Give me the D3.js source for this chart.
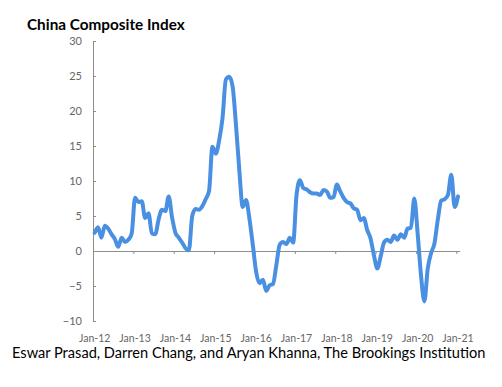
<!DOCTYPE html>
<html>
<head>
<meta charset="utf-8">
<script src="https://cdn.jsdelivr.net/npm/d3@7"></script>
<style>
  body { margin: 0; background: #fff; }
  svg { display: block; }
</style>
</head>
<body>
<script>
// monthly readings, Jan-12 .. Jan-21
var years = ["12", "13", "14", "15", "16", "17", "18", "19", "20", "21"];
var yTicks = [-10, -5, 0, 5, 10, 15, 20, 25, 30];
var composite = [
  2.6, 3.4, 1.9, 3.6, 3.2, 2.4, 1.7, 0.6, 1.9, 1.3, 1.6, 2.5,        // 2012
  7.6, 7.0, 7.1, 4.7, 5.4, 2.5, 2.4, 4.5, 5.9, 5.7, 7.8, 4.8,        // 2013
  2.6, 1.9, 1.2, 0.4, 0.1, 5.0, 6.0, 5.9, 6.4, 7.4, 8.6, 14.9,       // 2014
  13.9, 15.8, 19.0, 24.5, 24.9, 23.5, 18.0, 11.5, 6.3, 7.3, 4.6, 0.9, // 2015
  -3.0, -4.6, -4.1, -5.7, -4.9, -4.7, -2.0, 0.9, 1.3, 1.0, 1.9, 1.2, // 2016
  8.0, 10.1, 9.0, 8.8, 8.4, 8.2, 8.2, 8.0, 8.7, 8.5, 7.6, 7.7,       // 2017
  9.5, 8.5, 7.6, 7.0, 6.8, 6.1, 5.9, 4.4, 4.7, 3.0, 1.8, -0.6,       // 2018
  -2.5, -0.8, 1.2, 1.6, 1.3, 2.2, 1.6, 2.4, 1.9, 3.2, 3.3, 7.5,      // 2019
  2.5, -3.5, -7.2, -2.5, -0.3, 1.1, 4.5, 7.2, 7.4, 8.0, 10.9, 6.3,   // 2020
  7.8                                                                // 2021
];

var svg = d3.select("body").append("svg")
  .attr("width", 502)
  .attr("height", 387);

var x = d3.scaleLinear().domain([0, composite.length]).range([93, 459.7]);
var y = d3.scaleLinear().domain([-10, 30]).range([321, 41]);

var axisColor = "#8c8c8c";
var labelColor = "#666666";

// y axis, ticks pointing into the plot
var yAxis = svg.append("g")
  .attr("transform", "translate(93,0)")
  .call(d3.axisLeft(y).tickValues(yTicks).tickSize(-3).tickSizeOuter(0).tickPadding(11));
yAxis.select(".domain").attr("stroke", axisColor);
yAxis.selectAll(".tick line").attr("stroke", axisColor);
yAxis.selectAll(".tick text")
  .attr("fill", labelColor)
  .style("font-family", "Lato, 'Open Sans', sans-serif")
  .style("font-size", "11px");

// x axis drawn on the zero line
var yearIdx = years.map(function(d, i){ return i * 12; });
var xAxis = svg.append("g")
  .attr("transform", "translate(0," + y(0) + ")")
  .call(d3.axisBottom(x).tickValues(yearIdx).tickSize(3).tickSizeOuter(0).tickFormat(""));
xAxis.select(".domain").attr("stroke", axisColor);
xAxis.selectAll(".tick line").attr("stroke", axisColor);

// month labels along the bottom
svg.append("g").selectAll("text")
  .data(years)
  .enter().append("text")
  .attr("x", function(d, i){ return x(i * 12 + 0.5); })
  .attr("y", 342)
  .attr("text-anchor", "middle")
  .attr("fill", labelColor)
  .style("font-family", "Lato, 'Open Sans', sans-serif")
  .style("font-size", "10.5px")
  .text(function(d){ return "Jan-" + d; });

var line = d3.line()
  .x(function(d, i){ return x(i + 0.5); })
  .y(function(d){ return y(d); })
  .curve(d3.curveMonotoneX);

svg.append("path")
  .datum(composite)
  .attr("d", line)
  .attr("fill", "none")
  .attr("stroke", "#4a90e2")
  .attr("stroke-width", 4)
  .attr("stroke-linejoin", "round")
  .attr("stroke-linecap", "round");

svg.append("text")
  .attr("x", 27)
  .attr("y", 30)
  .style("font-family", "Lato, 'Open Sans', sans-serif")
  .style("font-weight", "bold")
  .style("font-size", "15.3px")
  .attr("fill", "#000")
  .text("China Composite Index");

svg.append("text")
  .attr("x", 12)
  .attr("y", 358)
  .style("font-family", "Lato, 'Open Sans', sans-serif")
  .style("font-size", "14.6px")
  .attr("fill", "#000")
  .text("Eswar Prasad, Darren Chang, and Aryan Khanna, The Brookings Institution");
</script>
</body>
</html>
